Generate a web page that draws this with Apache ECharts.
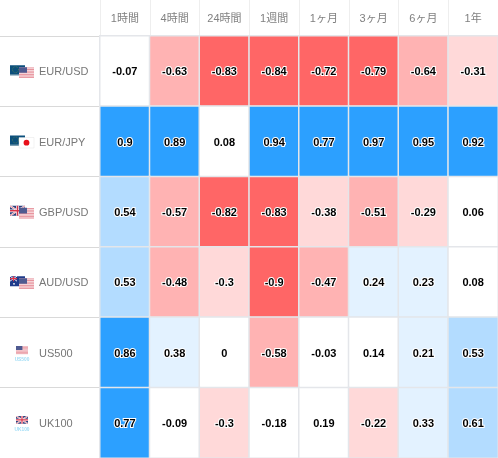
<!DOCTYPE html>
<html><head><meta charset="utf-8">
<style>html,body{margin:0;padding:0;background:#fff}#c{width:498px;height:458px}</style>
<script src="https://cdn.jsdelivr.net/npm/echarts@6/dist/echarts.min.js"></script>
</head><body><div id="c"></div>
<script>
const periods = ['1時間','4時間','24時間','1週間','1ヶ月','3ヶ月','6ヶ月','1年'];
const symbols = ['EUR/USD','EUR/JPY','GBP/USD','AUD/USD','US500','UK100'];
const eurusd = [-0.07,-0.63,-0.83,-0.84,-0.72,-0.79,-0.64,-0.31];
const eurjpy = [0.9,0.89,0.08,0.94,0.77,0.97,0.95,0.92];
const gbpusd = [0.54,-0.57,-0.82,-0.83,-0.38,-0.51,-0.29,0.06];
const audusd = [0.53,-0.48,-0.3,-0.9,-0.47,0.24,0.23,0.08];
const us500 = [0.86,0.38,0,-0.58,-0.03,0.14,0.21,0.53];
const uk100 = [0.77,-0.09,-0.3,-0.18,0.19,-0.22,0.33,0.61];
const rows = [eurusd,eurjpy,gbpusd,audusd,us500,uk100];
const cells = [];
rows.forEach((r,y)=>r.forEach((v,x)=>cells.push([x,y,v])));

const us = (x,y)=>`<g transform="translate(${x} ${y})"><rect width="15" height="10.5" fill="#fff"/><path d="M0 .8h15M0 2.4h15M0 4h15M0 5.6h15M0 7.2h15M0 8.8h15M0 10.2h15" stroke="#e0707c" stroke-width=".8"/><rect width="8" height="5.6" fill="#4f5a90"/></g>`;
const eu = (x,y)=>`<rect x="${x}" y="${y}" width="15" height="10" fill="#0b4f7c"/><rect x="${x}" y="${y+9}" width="15" height="1" fill="#79a"/><circle cx="${x+5.5}" cy="${y+4.5}" r="3" fill="none" stroke="#7f9a3a" stroke-width=".6" stroke-dasharray=".7 .9"/>`;
const jp = (x,y)=>`<rect x="${x}" y="${y}" width="15" height="10.5" fill="#fff" stroke="#ddd" stroke-width=".4"/><circle cx="${x+7.5}" cy="${y+5.2}" r="2.9" fill="#e8101a"/>`;
const uk = (x,y,s)=>`<g transform="translate(${x} ${y}) scale(${s||1})"><rect width="15" height="10" fill="#2d3f7c"/><path d="M0 0L15 10M15 0L0 10" stroke="#fff" stroke-width="1.8"/><path d="M0 0L15 10M15 0L0 10" stroke="#d8334a" stroke-width=".6"/><path d="M7.5 0v10M0 5h15" stroke="#fff" stroke-width="2.8"/><path d="M7.5 0v10M0 5h15" stroke="#d8334a" stroke-width="1.5"/></g>`;
const au = (x,y)=>`<g transform="translate(${x} ${y})"><rect width="15" height="10" fill="#1e3a8a"/><path d="M0 0L7 5M7 0L0 5" stroke="#fff" stroke-width=".9"/><path d="M3.5 0v5M0 2.5h7" stroke="#e3354a" stroke-width="1.1"/><circle cx="11" cy="3" r=".7" fill="#fff"/><circle cx="12.5" cy="6" r=".7" fill="#fff"/><circle cx="4" cy="7.7" r=".9" fill="#fff"/></g>`;
const tag = (t)=>`<text x="12" y="15" font-family="Liberation Sans" font-size="4.8" font-weight="bold" text-anchor="middle" fill="#9fdcf5">${t}</text>`;
const svg = b=>'data:image/svg+xml;charset=utf-8,'+encodeURIComponent(`<svg xmlns="http://www.w3.org/2000/svg" width="29" height="16" viewBox="0 0 29 16">${b}</svg>`);
const flags = {
  f0: svg(eu(0,1)+us(9,3)),
  f1: svg(eu(0,1)+jp(9,3)),
  f2: svg(uk(0,1)+us(9,3)),
  f3: svg(au(0,1)+us(9,3)),
  f4: svg(`<g transform="translate(6 0) scale(.8)">`+us(0,0)+`</g>`+tag('US500')),
  f5: svg(uk(6,0,.8)+tag('UK100'))
};
const rich = {t:{color:'#777',fontSize:11,fontFamily:'Liberation Sans'}};
Object.keys(flags).forEach(k=>rich[k]={width:29,height:16,backgroundColor:{image:flags[k]}});

const chart = echarts.init(document.getElementById('c'),null,{renderer:'canvas'});
chart.setOption({
  animation:false,
  backgroundColor:'#fff',
  grid:{left:100,right:0,top:36,bottom:0},
  xAxis:{type:'category',position:'top',data:periods,
    axisLine:{show:true,lineStyle:{color:'#dde1ea',width:2}},
    axisTick:{show:true,length:36,lineStyle:{color:'#eeeeee',width:1}},
    axisLabel:{color:'#808080',fontSize:11,fontFamily:'Liberation Sans, Noto Sans CJK JP',margin:12},
    splitArea:{show:false},splitLine:{show:false}},
  yAxis:{type:'category',inverse:true,data:symbols,
    axisLine:{show:false},
    axisTick:{show:true,length:100,lineStyle:{color:'#d9d9d9',width:1}},
    axisLabel:{margin:90,align:'left',padding:[2,0,0,0],
      formatter:(v,i)=>`{f${i}|}{t|${v}}`,rich},
    splitLine:{show:false}},
  visualMap:{show:false,type:'piecewise',dimension:2,seriesIndex:0,
    pieces:[
      {lt:-0.7,color:'#ff6666'},
      {gte:-0.7,lt:-0.4,color:'#ffb3b3'},
      {gte:-0.4,lt:-0.2,color:'#ffd9d9'},
      {gte:-0.2,lt:0.2,color:'#ffffff'},
      {gte:0.2,lt:0.5,color:'#e3f2ff'},
      {gte:0.5,lt:0.75,color:'#b3dcff'},
      {gte:0.75,color:'#2ca0ff'}
    ]},
  series:[{type:'heatmap',data:cells,
    itemStyle:{borderColor:'#e4e6ea',borderWidth:1.5},
    label:{show:true,offset:[0,1],formatter:p=>String(p.value[2]),color:'#000',fontSize:11,fontWeight:'bold',
      fontFamily:'Liberation Sans',textBorderColor:'#fff',textBorderWidth:2}}]
});
</script></body></html>
